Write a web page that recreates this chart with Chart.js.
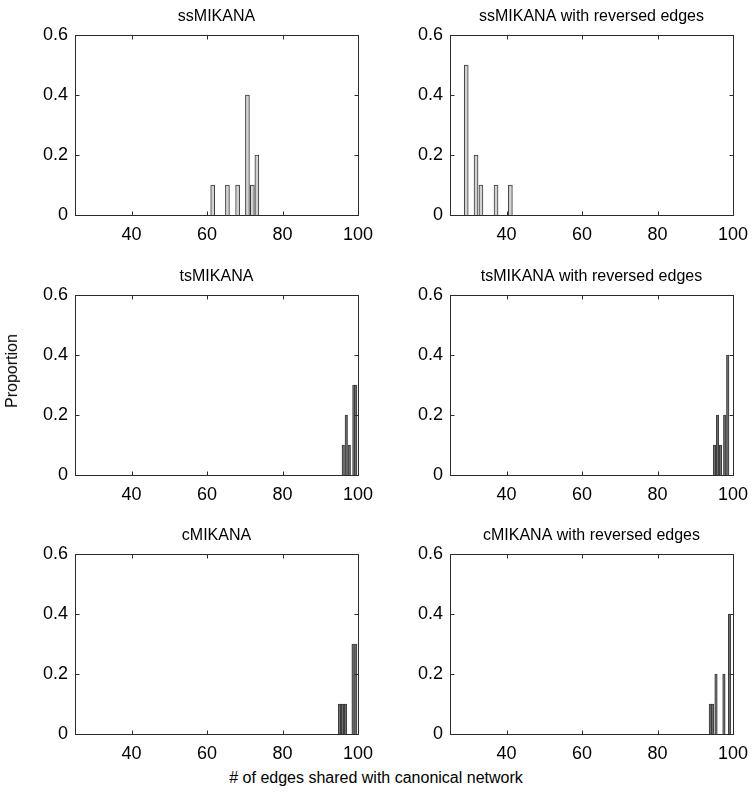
<!DOCTYPE html>
<html>
<head>
<meta charset="utf-8">
<script src="https://cdn.jsdelivr.net/npm/chart.js@4.4.1/dist/chart.umd.min.js"></script>
<style>
  body { margin: 0; background: #fff; }
  #page { position: relative; width: 752px; height: 804px; background: #fff; overflow: hidden;
          font-family: "Liberation Sans", Arial, sans-serif; color: #000; }
  #page canvas { position: absolute; }
  .lab { position: absolute; font-size: 16px; white-space: nowrap; }
  #xlab { left: 376px; top: 778px; transform: translate(-50%, -50%); }
  #ylab { left: 12px; top: 371px; transform: translate(-50%, -50%) rotate(-90deg); }
</style>
</head>
<body>
<div id="page">
  <canvas id="p0" width="382" height="245" style="left:0px;top:0px"></canvas>
  <canvas id="p1" width="382" height="245" style="left:375px;top:0px"></canvas>
  <canvas id="p2" width="382" height="245" style="left:0px;top:260px"></canvas>
  <canvas id="p3" width="382" height="245" style="left:375px;top:260px"></canvas>
  <canvas id="p4" width="382" height="245" style="left:0px;top:519px"></canvas>
  <canvas id="p5" width="382" height="245" style="left:375px;top:519px"></canvas>
  <div class="lab" id="xlab"># of edges shared with canonical network</div>
  <div class="lab" id="ylab">Proportion</div>
</div>
<script>
// tick labels
const xTicks = [40, 60, 80, 100];
const yTicks = [0, 0.2, 0.4, 0.6];

// panel titles
const titles = [
  'ssMIKANA', 'ssMIKANA with reversed edges',
  'tsMIKANA', 'tsMIKANA with reversed edges',
  'cMIKANA', 'cMIKANA with reversed edges'
];

// # of shared edges (bar positions) and proportions per panel
const ssEdges = [61.5, 65.4, 68.1, 70.7, 72.0, 73.2];
const ssProp = [0.1, 0.1, 0.1, 0.4, 0.1, 0.2];
const ssRevEdges = [29.3, 31.9, 33.2, 37.2, 41.0];
const ssRevProp = [0.5, 0.2, 0.1, 0.1, 0.1];
const tsEdges = [96.1, 96.9, 97.7, 98.9, 99.4];
const tsProp = [0.1, 0.2, 0.1, 0.3, 0.3];
const tsRevEdges = [95.1, 95.9, 96.7, 97.8, 98.6];
const tsRevProp = [0.1, 0.2, 0.1, 0.2, 0.4];
const cEdges = [95.1, 95.9, 96.7, 98.7, 99.4];
const cProp = [0.1, 0.1, 0.1, 0.3, 0.3];
const cRevEdges = [94.0, 94.6, 95.5, 97.6, 99.1];
const cRevProp = [0.1, 0.1, 0.2, 0.2, 0.4];

const font = { family: '"Liberation Sans", Arial, sans-serif', size: 18 };

// box around the axes with inward ticks, like matlab
const frame = {
  id: 'frame',
  afterDatasetsDraw(chart) {
    const { ctx, chartArea: a, scales: { x, y } } = chart;
    const L = Math.round(a.left) + 0.5, R = Math.round(a.right) + 0.5;
    const T = Math.round(a.top) + 0.5, B = Math.round(a.bottom) + 0.5;
    ctx.save();
    ctx.strokeStyle = '#2b2b2b';
    ctx.lineWidth = 1;
    ctx.strokeRect(L, T, R - L, B - T);
    ctx.beginPath();
    xTicks.forEach(v => {
      const px = Math.round(x.getPixelForValue(v)) + 0.5;
      ctx.moveTo(px, B); ctx.lineTo(px, B - 4);
      ctx.moveTo(px, T); ctx.lineTo(px, T + 4);
    });
    yTicks.forEach(v => {
      const py = Math.round(y.getPixelForValue(v)) + 0.5;
      ctx.moveTo(L, py); ctx.lineTo(L + 4, py);
      ctx.moveTo(R, py); ctx.lineTo(R - 4, py);
    });
    ctx.stroke();
    ctx.restore();
  }
};

function makePanel(id, title, xs, ys, fill, thick) {
  new Chart(document.getElementById(id), {
    type: 'bar',
    data: {
      datasets: [{
        data: xs.map((v, i) => ({ x: v, y: ys[i] })),
        backgroundColor: fill,
        borderColor: '#3a3a3a',
        borderWidth: 1,
        barThickness: thick,
        grouped: false
      }]
    },
    options: {
      responsive: false,
      animation: false,
      layout: { padding: 0 },
      plugins: {
        legend: { display: false },
        tooltip: { enabled: false },
        title: {
          display: true,
          fullSize: false,
          text: title,
          color: '#000',
          font: { family: font.family, size: 16, weight: 'normal' },
          padding: { top: 7, bottom: 8.8 }
        }
      },
      scales: {
        x: {
          type: 'linear',
          min: 25,
          max: 100,
          offset: false,
          grid: { display: false, drawTicks: false, tickLength: 0 },
          border: { display: false },
          ticks: { color: '#000', font: font, padding: 9, maxRotation: 0 },
          afterBuildTicks: s => { s.ticks = xTicks.map(v => ({ value: v })); },
          afterFit: s => { s.height = 30; }
        },
        y: {
          min: 0,
          max: 0.6,
          grid: { display: false, drawTicks: false, tickLength: 0 },
          border: { display: false },
          ticks: { color: '#000', font: font, padding: 7, callback: v => String(+v.toFixed(1)) },
          afterBuildTicks: s => { s.ticks = yTicks.map(v => ({ value: v })); },
          afterFit: s => { s.width = 75; }
        }
      }
    },
    plugins: [frame]
  });
}

makePanel('p0', titles[0], ssEdges, ssProp, '#d2d2d2', 4);
makePanel('p1', titles[1], ssRevEdges, ssRevProp, '#d2d2d2', 4);
makePanel('p2', titles[2], tsEdges, tsProp, '#6e6e6e', 2.5);
makePanel('p3', titles[3], tsRevEdges, tsRevProp, '#6e6e6e', 2.5);
makePanel('p4', titles[4], cEdges, cProp, '#6e6e6e', 2.5);
makePanel('p5', titles[5], cRevEdges, cRevProp, '#6e6e6e', 2.5);
</script>
</body>
</html>
